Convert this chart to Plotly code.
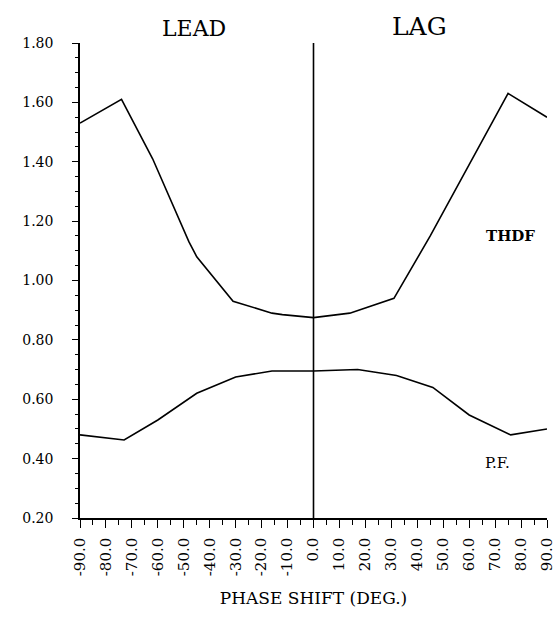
import plotly.graph_objects as go

# Phase shift (degrees) and measured curves
thdf_deg = [-90, -74, -62, -48, -45, -31, -16, -12, 0, 6, 14, 31, 45, 75, 90]
thdf_val = [1.53, 1.61, 1.41, 1.13, 1.08, 0.93, 0.89, 0.885, 0.875, 0.882, 0.89, 0.94, 1.15, 1.63, 1.55]

pf_deg = [-90, -73, -60, -45, -30, -16, 0, 17, 32, 46, 60, 76, 90]
pf_val = [0.48, 0.463, 0.53, 0.62, 0.675, 0.695, 0.695, 0.70, 0.68, 0.64, 0.547, 0.48, 0.50]

x_tick_vals = [-90, -80, -70, -60, -50, -40, -30, -20, -10, 0, 10, 20, 30, 40, 50, 60, 70, 80, 90]
x_tick_text = ["-90.0", "-80.0", "-70.0", "-60.0", "-50.0", "-40.0", "-30.0", "-20.0", "-10.0",
               "0.0", "10.0", "20.0", "30.0", "40.0", "50.0", "60.0", "70.0", "80.0", "90.0"]
y_tick_vals = [0.2, 0.4, 0.6, 0.8, 1.0, 1.2, 1.4, 1.6, 1.8]
y_tick_text = ["0.20", "0.40", "0.60", "0.80", "1.00", "1.20", "1.40", "1.60", "1.80"]

FONT = "DejaVu Serif"

fig = go.Figure()
fig.add_trace(go.Scatter(x=thdf_deg, y=thdf_val, mode="lines",
                         line=dict(color="black", width=1.6), showlegend=False))
fig.add_trace(go.Scatter(x=pf_deg, y=pf_val, mode="lines",
                         line=dict(color="black", width=1.6), showlegend=False))

# zero phase-shift divider
fig.add_shape(type="line", x0=0, x1=0, y0=0.2, y1=1.81, xref="x", yref="y",
              line=dict(color="black", width=1.6))

fig.add_annotation(x=-46, xref="x", y=1.06, yref="paper", text="LEAD", showarrow=False,
                   font=dict(family=FONT, size=22, color="black"))
fig.add_annotation(x=41, xref="x", y=1.07, yref="paper", text="LAG", showarrow=False,
                   font=dict(family=FONT, size=25, color="black"))
fig.add_annotation(x=76, y=1.15, text="<b>THDF</b>", showarrow=False,
                   font=dict(family=FONT, size=15, color="black"))
fig.add_annotation(x=71, y=0.385, text="P.F.", showarrow=False,
                   font=dict(family=FONT, size=15, color="black"))

fig.update_layout(
    width=557, height=621,
    margin=dict(l=80, r=10, t=43, b=103),
    paper_bgcolor="white", plot_bgcolor="white",
    font=dict(family=FONT, color="black"),
    xaxis=dict(
        range=[-90, 90], tickmode="array", tickvals=x_tick_vals, ticktext=x_tick_text,
        tickangle=-90, ticks="outside", ticklen=8, tickwidth=1.3, tickcolor="black",
        minor=dict(dtick=5, tick0=0, ticks="outside", ticklen=5, tickwidth=1.2, tickcolor="black"),
        showline=True, linecolor="black", linewidth=1.5, showgrid=False, zeroline=False,
        tickfont=dict(family=FONT, size=15, color="black"),
        ticklabelstandoff=4,
        automargin=False,
        title=dict(text="PHASE SHIFT (DEG.)", standoff=17,
                   font=dict(family=FONT, size=17, color="black")),
    ),
    yaxis=dict(
        range=[0.2, 1.8], tickmode="array", tickvals=y_tick_vals, ticktext=y_tick_text,
        ticks="outside", ticklen=6, tickwidth=1.3, tickcolor="black",
        minor=dict(dtick=0.05, tick0=0.2, ticks="outside", ticklen=3, tickwidth=1.2, tickcolor="black"),
        showline=True, linecolor="black", linewidth=1.5, showgrid=False, zeroline=False,
        tickfont=dict(family=FONT, size=14, color="black"),
        automargin=False,
        ticklabelstandoff=16,
    ),
)

fig.write_html("out.html")
